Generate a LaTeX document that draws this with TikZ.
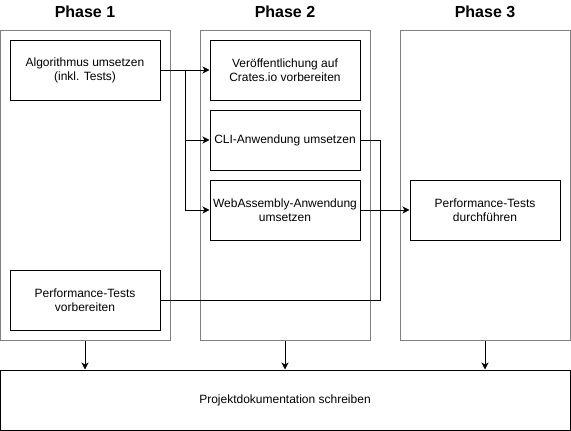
\documentclass[tikz,border=0pt]{standalone}
\usepackage{fontspec}
\setmainfont{Liberation Sans}
\usetikzlibrary{arrows.meta}

\begin{document}
\begin{tikzpicture}[x=1pt,y=-1pt,
	phase/.style={draw=black!50, line width=1pt, minimum width=170pt, minimum height=310pt, inner sep=0pt},
	task/.style={draw, line width=1pt, minimum width=150pt, minimum height=60pt, align=center, inner sep=2pt, font=\fontsize{12}{14}\selectfont},
	title/.style={font=\fontsize{16}{19}\selectfont\bfseries},
	arr/.style={-{Stealth[length=7pt,width=7pt,inset=2pt]}, line width=1pt}]
	\useasboundingbox (0,0) rectangle (571,431);
	
	% phases
	\node[phase] (p1) at (85,185) {};
	\node[phase] (p2) at (285,185) {};
	\node[phase] (p3) at (485,185) {};
	\node[title] (t1) at (85,12) {Phase 1};
	\node[title] (t2) at (285,12) {Phase 2};
	\node[title] (t3) at (485,12) {Phase 3};
	
	% tasks
	\node[task] (algo) at (85,70) {Algorithmus umsetzen\\(inkl. Tests)};
	\node[task] (prep) at (85,300) {Performance-Tests\\vorbereiten};
	\node[task] (pub) at (285,70) {Veröffentlichung auf\\Crates.io vorbereiten};
	\node[task] (cli) at (285,140) {CLI-Anwendung umsetzen};
	\node[task] (wasm) at (285,210) {WebAssembly-Anwendung\\umsetzen};
	\node[task] (perf) at (485,210) {Performance-Tests\\durchführen};
	\node[task, minimum width=570pt] (doc) at (285,400) {Projektdokumentation schreiben};
	
	\coordinate (split) at ([xshift=25pt]algo.east);
	\coordinate (turn) at ([xshift=20pt]cli.east);
	
	\draw[arr] (algo.east) -- (pub.west);
	\draw[arr] (algo.east) -- (split) |- (cli.west);
	\draw[arr] (split) |- (wasm.west);
	\draw[line width=1pt] (cli.east) -- (turn) |- (prep.east);
	\draw[arr] (wasm.east) -- (perf.west);
	
	\foreach \p in {p1,p2,p3}{
		\draw[arr] (\p.south) -- (\p.south |- doc.north);
	}
\end{tikzpicture}
\end{document}
